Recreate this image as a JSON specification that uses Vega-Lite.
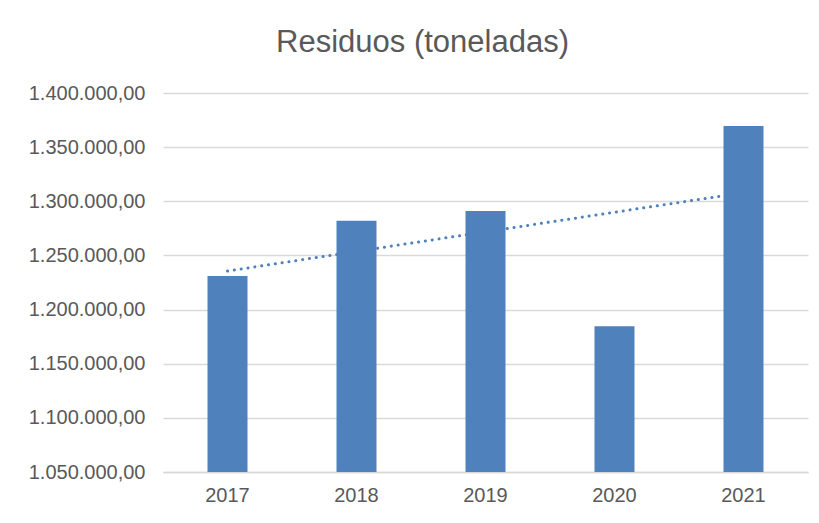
{
  "$schema": "https://vega.github.io/schema/vega-lite/v6.json",
  "width": 645,
  "height": 379,
  "autosize": {"type": "none"},
  "padding": {"left": 163, "top": 93, "right": 11, "bottom": 51},
  "background": "white",
  "config": {
    "locale": {"number": {"decimal": ",", "thousands": ".", "grouping": [3], "currency": ["", " €"]}},
    "view": {"stroke": null},
    "font": "Liberation Sans"
  },
  "title": {
    "text": "Residuos (toneladas)",
    "font": "Liberation Sans",
    "fontSize": 31,
    "fontWeight": "normal",
    "color": "#595959",
    "anchor": "middle",
    "offset": 24,
    "dx": -63
  },
  "data": {
    "values": [
      {"year": "2017", "tons": 1231000, "trend": 1235600},
      {"year": "2018", "tons": 1282000, "trend": 1253700},
      {"year": "2019", "tons": 1291000, "trend": 1271800},
      {"year": "2020", "tons": 1184500, "trend": 1289900},
      {"year": "2021", "tons": 1369500, "trend": 1307900}
    ]
  },
  "encoding": {
    "x": {
      "field": "year",
      "type": "ordinal",
      "scale": {"paddingInner": 0.69, "paddingOuter": 0.345},
      "axis": {
        "title": null,
        "labelAngle": 0,
        "labelFont": "Liberation Sans",
        "labelFontSize": 20,
        "labelColor": "#595959",
        "labelPadding": 13,
        "ticks": false,
        "domainColor": "#d9d9d9",
        "domainWidth": 1.5
      }
    }
  },
  "layer": [
    {
      "mark": {"type": "line", "color": "#4f81bd", "strokeWidth": 3, "strokeDash": [0.1, 6.8], "strokeCap": "round"},
      "encoding": {
        "y": {
          "field": "trend",
          "type": "quantitative",
          "scale": {"domain": [1050000, 1400000], "nice": false, "zero": false},
          "axis": {
            "title": null,
            "values": [1050000, 1100000, 1150000, 1200000, 1250000, 1300000, 1350000, 1400000],
            "format": ",.2f",
            "labelFont": "Liberation Sans",
            "labelFontSize": 20,
            "labelColor": "#595959",
            "labelPadding": 18,
            "ticks": false,
            "domain": false,
            "grid": true,
            "gridColor": "#d9d9d9",
            "gridWidth": 1.5
          }
        }
      }
    },
    {
      "mark": {"type": "bar", "color": "#4f81bd", "clip": true},
      "encoding": {
        "y": {
          "field": "tons",
          "type": "quantitative",
          "scale": {"domain": [1050000, 1400000], "nice": false, "zero": false}
        }
      }
    }
  ]
}
